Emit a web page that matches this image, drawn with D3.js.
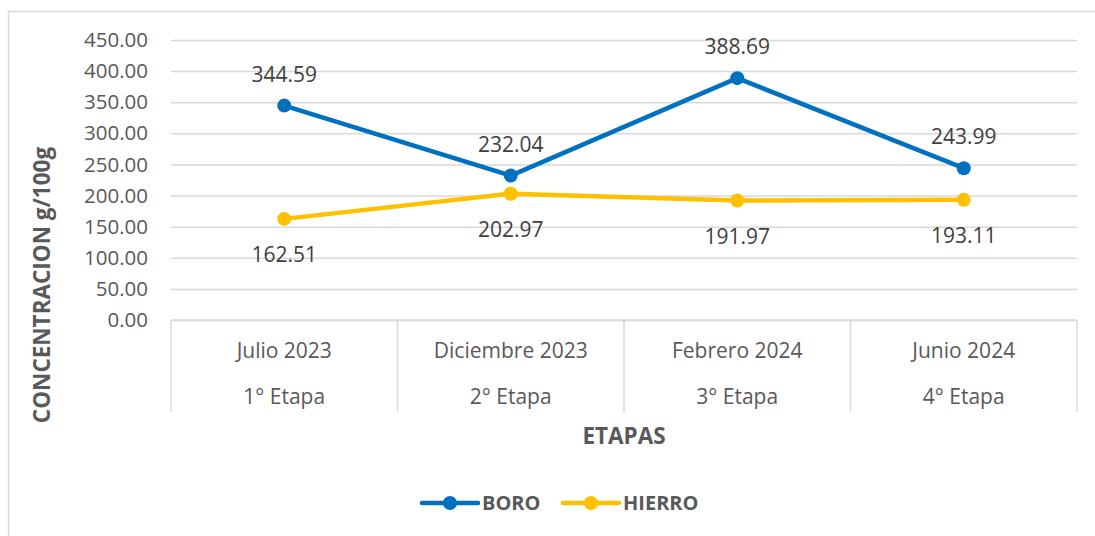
<!DOCTYPE html>
<html>
<head>
<meta charset="utf-8">
<script src="https://cdn.jsdelivr.net/npm/d3@7"></script>
<style>
  body { margin: 0; background: #fff; }
  text { font-family: "Open Sans", sans-serif; }
</style>
</head>
<body>
<div id="chart"></div>
<script>
// data
var meses = ["Julio 2023", "Diciembre 2023", "Febrero 2024", "Junio 2024"];
var etapas = ["1° Etapa", "2° Etapa", "3° Etapa", "4° Etapa"];
var boro = [344.59, 232.04, 388.69, 243.99];
var hierro = [162.51, 202.97, 191.97, 193.11];
var yTicks = [0, 50, 100, 150, 200, 250, 300, 350, 400, 450];

var W = 1095, H = 536;
var plotL = 171, plotR = 1077, plotT = 40, plotB = 320;

var svg = d3.select("#chart").append("svg")
  .attr("width", W).attr("height", H);

// chart border
svg.append("rect")
  .attr("x", 8.5).attr("y", 11.5)
  .attr("width", 1200).attr("height", 700)
  .attr("fill", "none").attr("stroke", "#d9d9d9").attr("stroke-width", 1.5);

var x = d3.scaleBand().domain(meses).range([plotL, plotR]).padding(0);
var y = d3.scaleLinear().domain([0, 450]).range([plotB, plotT]);

// gridlines + y ticks
var yAxis = svg.append("g")
  .attr("transform", "translate(" + plotL + ",0)")
  .call(d3.axisLeft(y).tickValues(yTicks).tickSize(-(plotR - plotL)).tickPadding(23)
    .tickFormat(d3.format(".2f")));
yAxis.select(".domain").remove();
yAxis.selectAll(".tick line").attr("stroke", "#d9d9d9").attr("stroke-width", 1.5);
yAxis.selectAll(".tick text")
  .attr("fill", "#595959").style("font-size", "20.5px").style("font-family", "Open Sans");

// category axis box
var xg = svg.append("g");
xg.append("line").attr("x1", plotL).attr("x2", plotR)
  .attr("y1", plotB).attr("y2", plotB)
  .attr("stroke", "#d9d9d9").attr("stroke-width", 1.5);
var edges = meses.map(function(d){ return x(d); }).concat([plotR]);
xg.selectAll(".sep").data(edges).enter().append("line")
  .attr("x1", function(d){ return d; }).attr("x2", function(d){ return d; })
  .attr("y1", plotB).attr("y2", 412)
  .attr("stroke", "#d9d9d9").attr("stroke-width", 1.5);
xg.selectAll(".mes").data(meses).enter().append("text")
  .attr("x", function(d){ return x(d) + x.bandwidth()/2; })
  .attr("y", 358)
  .attr("text-anchor", "middle")
  .attr("fill", "#595959").style("font-size", "21px")
  .text(function(d){ return d; });
xg.selectAll(".etapa").data(etapas).enter().append("text")
  .attr("x", function(d, i){ return x(meses[i]) + x.bandwidth()/2; })
  .attr("y", 404)
  .attr("text-anchor", "middle")
  .attr("fill", "#595959").style("font-size", "21px")
  .text(function(d){ return d; });

// axis titles
svg.append("text")
  .attr("transform", "translate(50,285) rotate(-90)")
  .attr("text-anchor", "middle")
  .attr("fill", "#595959").style("font-size", "22.5px").style("font-weight", "bold")
  .text("CONCENTRACION g/100g");
svg.append("text")
  .attr("x", 624).attr("y", 444)
  .attr("text-anchor", "middle")
  .attr("fill", "#595959").style("font-size", "22.5px").style("font-weight", "bold")
  .text("ETAPAS");

var series = [
  { name: "BORO", values: boro, color: "#0070c0", dy: -24 },
  { name: "HIERRO", values: hierro, color: "#ffc000", dy: 43 }
];

var line = d3.line()
  .x(function(d, i){ return x(meses[i]) + x.bandwidth()/2; })
  .y(function(d){ return y(d); });

series.forEach(function(s){
  svg.append("path")
    .datum(s.values)
    .attr("d", line)
    .attr("fill", "none")
    .attr("stroke", s.color).attr("stroke-width", 4.5)
    .attr("stroke-linejoin", "round").attr("stroke-linecap", "round");
  svg.selectAll(null).data(s.values).enter().append("circle")
    .attr("cx", function(d, i){ return x(meses[i]) + x.bandwidth()/2; })
    .attr("cy", function(d){ return y(d); })
    .attr("r", 7)
    .attr("fill", s.color);
  svg.selectAll(null).data(s.values).enter().append("text")
    .attr("x", function(d, i){ return x(meses[i]) + x.bandwidth()/2; })
    .attr("y", function(d){ return y(d) + s.dy; })
    .attr("text-anchor", "middle")
    .attr("fill", "#404040").style("font-size", "21px")
    .text(function(d){ return d3.format(".2f")(d); });
});

// legend
var legend = svg.append("g");
var lx = [422, 563];
series.forEach(function(s, i){
  var g = legend.append("g").attr("transform", "translate(" + lx[i] + ",503)");
  g.append("line").attr("x1", 0).attr("x2", 56).attr("y1", 0).attr("y2", 0)
    .attr("stroke", s.color).attr("stroke-width", 4.5).attr("stroke-linecap", "round");
  g.append("circle").attr("cx", 28).attr("cy", 0).attr("r", 7).attr("fill", s.color);
  g.append("text").attr("x", 60).attr("y", 7)
    .attr("fill", "#595959").style("font-size", "20px").style("font-weight", "bold")
    .text(s.name);
});
</script>
</body>
</html>
